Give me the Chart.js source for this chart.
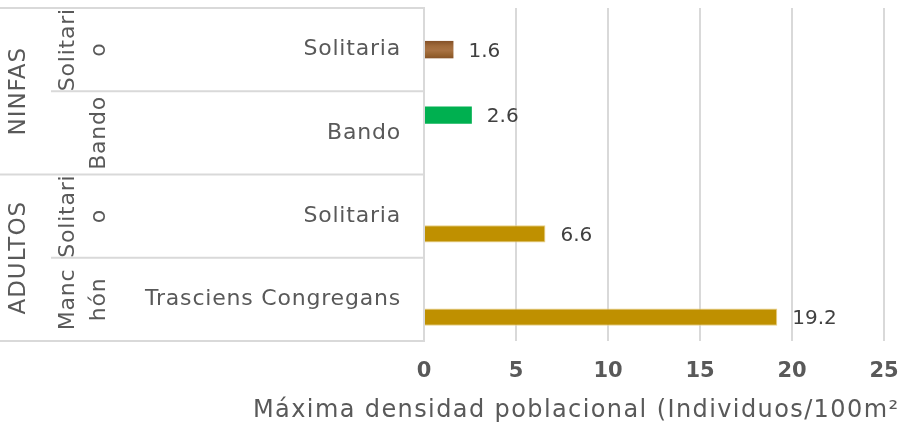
<!DOCTYPE html>
<html>
<head>
<meta charset="utf-8">
<script src="https://cdn.jsdelivr.net/npm/chart.js@4.4.0/dist/chart.umd.min.js"></script>
<style>
  html, body { margin: 0; padding: 0; background: #fff; }
  #wrap { width: 899px; height: 428px; }
</style>
</head>
<body>
<div id="wrap"><canvas id="chart"></canvas></div>
<script>
// data
const categories = ['Solitaria', 'Bando', 'Solitaria', 'Trasciens Congregans'];
const subGroups = [['Solitari', 'o'], ['', 'Bando'], ['Solitari', 'o'], ['Manc', 'hón']];
const groups = ['NINFAS', 'ADULTOS']; // each one spans two categories
const bandoValues = [null, 2.6, null, null];
const solitariaNinfaValues = [1.6, null, null, null];
const adultosValues = [null, null, 6.6, 19.2];
const xMax = 25;
const xStep = 5;
const xTitle = 'Máxima densidad poblacional (Individuos/100m²)';

const TEXT = '#595959';
const LINE = '#d9d9d9';
const FONT = '"DejaVu Sans", sans-serif';

// brown wood-ish fill, built around the bar's own band
const woodFill = (ctx) => {
  const chart = ctx.chart;
  if (!chart.chartArea || !chart.scales.y) return '#96602f';
  const y = chart.scales.y.getPixelForValue(ctx.dataIndex);
  const g = chart.ctx.createLinearGradient(0, y - 9, 0, y + 9);
  g.addColorStop(0, '#824f26');
  g.addColorStop(0.3, '#a06a3a');
  g.addColorStop(0.55, '#a87243');
  g.addColorStop(0.8, '#96622f');
  g.addColorStop(1, '#855228');
  return g;
};

// multi-level category table on the left + axis title
const tablePlugin = {
  id: 'tableLines',
  afterDraw(chart) {
    const { ctx, scales: { y } } = chart;
    const half = (y.getPixelForValue(1) - y.getPixelForValue(0)) / 2;
    const right = chart.chartArea.left;
    ctx.save();
    ctx.strokeStyle = LINE;
    ctx.lineWidth = 2;
    categories.forEach((c, i) => {
      const yc = y.getPixelForValue(i);
      if (i === 0) {
        ctx.beginPath(); ctx.moveTo(0, yc - half); ctx.lineTo(right, yc - half); ctx.stroke();
      }
      const startX = (i % 2 === 1) ? 0 : 51;
      ctx.beginPath(); ctx.moveTo(startX, yc + half); ctx.lineTo(right, yc + half); ctx.stroke();
    });

    ctx.fillStyle = TEXT;
    ctx.textBaseline = 'middle';

    // inner level (the category labels)
    ctx.font = '22px ' + FONT;
    ctx.letterSpacing = '0.8px';
    ctx.textAlign = 'right';
    categories.forEach((c, i) => {
      ctx.fillText(c, right - 23, y.getPixelForValue(i));
    });

    ctx.textAlign = 'center';
    // outer groups
    ctx.font = '23px ' + FONT;
    ctx.letterSpacing = '1px';
    groups.forEach((g, gi) => {
      const yc = (y.getPixelForValue(gi * 2) + y.getPixelForValue(gi * 2 + 1)) / 2;
      ctx.save();
      ctx.translate(19, yc);
      ctx.rotate(-Math.PI / 2);
      ctx.fillText(g, 0, 0);
      ctx.restore();
    });
    // middle level
    ctx.font = '22px ' + FONT;
    ctx.letterSpacing = '0.8px';
    subGroups.forEach((lines, i) => {
      const yc = y.getPixelForValue(i);
      lines.forEach((t, li) => {
        if (!t) return;
        ctx.save();
        ctx.translate(68 + li * 31, yc);
        ctx.rotate(-Math.PI / 2);
        ctx.fillText(t, 0, 0);
        ctx.restore();
      });
    });

    // axis title, runs off the right edge as in the original
    ctx.font = '24px ' + FONT;
    ctx.letterSpacing = '1.4px';
    ctx.textAlign = 'left';
    ctx.fillText(xTitle, 253, 411);
    ctx.restore();
  }
};

const valueLabels = {
  id: 'valueLabels',
  afterDatasetsDraw(chart) {
    const { ctx } = chart;
    ctx.save();
    ctx.fillStyle = '#404040';
    ctx.font = '20px ' + FONT;
    ctx.textAlign = 'left';
    ctx.textBaseline = 'middle';
    chart.data.datasets.forEach((ds, di) => {
      const meta = chart.getDatasetMeta(di);
      ds.data.forEach((v, i) => {
        if (v == null) return;
        const bar = meta.data[i];
        ctx.fillText(v.toFixed(1), bar.x + 15, bar.y + 2);
      });
    });
    ctx.restore();
  }
};

new Chart(document.getElementById('chart'), {
  type: 'bar',
  data: {
    labels: categories,
    datasets: [
      { label: 'Bando', data: bandoValues, backgroundColor: '#00b050' },
      { label: 'Solitaria ninfas', data: solitariaNinfaValues, backgroundColor: woodFill },
      { label: 'Adultos', data: adultosValues, backgroundColor: '#bf9000', borderColor: '#e9cf86', borderWidth: 1 }
    ]
  },
  options: {
    indexAxis: 'y',
    responsive: true,
    maintainAspectRatio: false,
    animation: false,
    categoryPercentage: 0.64,
    barPercentage: 0.98,
    layout: { padding: { top: 8, right: 15, left: 0, bottom: 0 } },
    plugins: { legend: { display: false }, tooltip: { enabled: false } },
    scales: {
      x: {
        min: 0,
        max: xMax,
        ticks: { stepSize: xStep, color: TEXT, font: { family: FONT, size: 21, weight: 'bold' }, padding: 18 },
        grid: { color: LINE, lineWidth: 2, drawTicks: false },
        border: { display: false },
        afterFit: (s) => { s.height = 87; s.paddingLeft = 0; s.paddingRight = 0; }
      },
      y: {
        ticks: { display: false },
        grid: { display: false, drawTicks: false },
        border: { display: true, color: LINE, width: 2 },
        afterFit: (s) => { s.width = 424; s.paddingTop = 0; s.paddingBottom = 0; }
      }
    }
  },
  plugins: [tablePlugin, valueLabels]
});
</script>
</body>
</html>
